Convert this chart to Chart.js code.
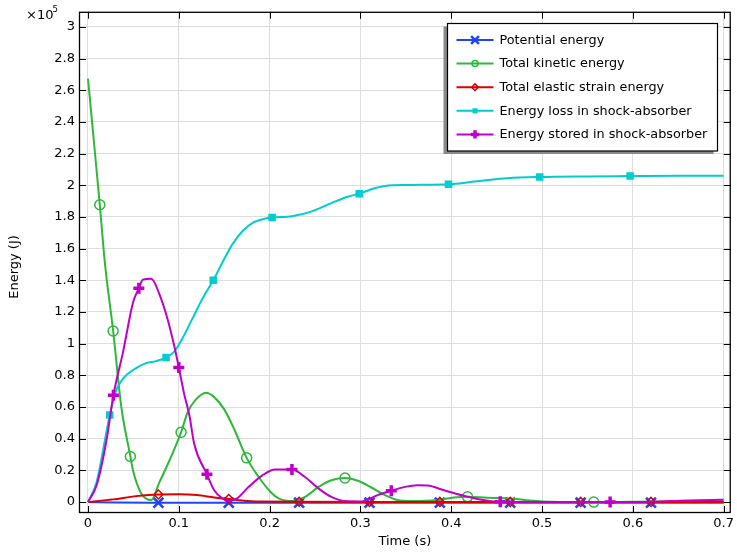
<!DOCTYPE html>
<html>
<head>
<meta charset="utf-8">
<title>Energy balance</title>
<script src="https://cdn.jsdelivr.net/npm/chart.js@4.4.1/dist/chart.umd.min.js"></script>
<style>
  html, body { margin: 0; padding: 0; background: #fff; }
</style>
</head>
<body>
<canvas id="energyChart" width="737" height="553"></canvas>
<script>
// Time (s) / energy (J) samples for each quantity; *Marks are the times that get a marker
const potTime = [0, 0.03, 0.0775, 0.155, 0.2325, 0.31, 0.3875, 0.465, 0.5425, 0.62, 0.7];
const potEnergy = [0, -300, -400, -400, -400, -400, -400, -400, -400, -400, -400];
const potMarks = [0.0775, 0.155, 0.2325, 0.31, 0.3875, 0.465, 0.5425, 0.62];

const kinTime = [0, 0.013, 0.0186, 0.0277, 0.0368, 0.0467, 0.0496, 0.0587, 0.0697, 0.0788,
  0.0897, 0.1025, 0.11, 0.119, 0.13, 0.139, 0.15, 0.161, 0.1747, 0.188,
  0.201, 0.21, 0.2246, 0.239, 0.254, 0.268, 0.283, 0.298, 0.312, 0.327,
  0.341, 0.356, 0.385, 0.403, 0.418, 0.44, 0.465, 0.491, 0.51, 0.557, 0.6, 0.7];
const kinEnergy = [267300, 187700, 151000, 108000, 59600, 28800, 20000, 5400, 1250, 12700,
  26250, 44000, 57000, 64800, 69000, 66250, 58500, 46000, 27900, 15800,
  6400, 2300, 600, 3300, 9600, 13750, 15200, 13300, 9200, 4400,
  1250, 600, 1250, 2900, 3300, 2700, 2300, 800, 200, 0, 200, 400];
const kinMarks = [0.013, 0.0277, 0.0467, 0.1025, 0.1747, 0.283, 0.418, 0.557];

const elaTime = [0, 0.0277, 0.053, 0.0775, 0.1, 0.12, 0.139, 0.155, 0.175, 0.19,
  0.2325, 0.31, 0.3875, 0.465, 0.5425, 0.62, 0.7];
const elaEnergy = [0, 1700, 3750, 4800, 4900, 4400, 2900, 1900, 600, 400,
  200, 100, 100, 100, 100, 100, 100];
const elaMarks = [0.0775, 0.155, 0.2325, 0.31, 0.3875, 0.465, 0.5425, 0.62];

const lossTime = [0, 0.0095, 0.024, 0.0314, 0.0387, 0.053, 0.064, 0.075, 0.086, 0.095,
  0.104, 0.115, 0.126, 0.1379, 0.148, 0.159, 0.17, 0.1827, 0.1955, 0.2027,
  0.2246, 0.2465, 0.268, 0.2867, 0.2987, 0.312, 0.327, 0.352, 0.397, 0.425,
  0.4617, 0.4975, 0.55, 0.597, 0.65, 0.7];
const lossEnergy = [0, 12700, 55000, 71000, 78000, 84600, 87700, 89000, 91250, 95000,
  103300, 115800, 128300, 140000, 151250, 162700, 171000, 176700, 179000, 179600,
  180400, 183500, 188750, 192900, 194600, 197500, 199600, 200200, 200600, 202300,
  204400, 205200, 205600, 205800, 206000, 206000];
const lossMarks = [0.024, 0.086, 0.1379, 0.2027, 0.2987, 0.397, 0.4975, 0.597];

const stoTime = [0, 0.0095, 0.0204, 0.028, 0.0387, 0.0496, 0.056, 0.0605, 0.0697, 0.0788,
  0.0879, 0.0952, 0.1, 0.106, 0.1116, 0.117, 0.131, 0.139, 0.148, 0.155,
  0.164, 0.177, 0.192, 0.2064, 0.2246, 0.239, 0.254, 0.268, 0.283, 0.301,
  0.319, 0.334, 0.349, 0.363, 0.374, 0.392, 0.418, 0.44, 0.454, 0.5,
  0.575, 0.62, 0.66, 0.7];
const stoEnergy = [0, 10600, 39000, 67500, 95000, 126000, 135000, 140400, 141000, 131000,
  115000, 98000, 85000, 68000, 55000, 36700, 17500, 7500, 2300, 600,
  2300, 9600, 16900, 20600, 20600, 15800, 8500, 3300, 600, 400,
  4400, 7100, 9600, 10600, 10400, 7500, 3300, 800, 200, 0,
  0, 200, 1000, 1400];
const stoMarks = [0.028, 0.056, 0.1, 0.131, 0.2246, 0.334, 0.454, 0.575];

// axis ticks
const timeTicks = [0, 0.1, 0.2, 0.3, 0.4, 0.5, 0.6, 0.7];
const energyTicks = [0, 20000, 40000, 60000, 80000, 100000, 120000, 140000, 160000,
  180000, 200000, 220000, 240000, 260000, 280000, 300000];

const seriesLabels = ['Potential energy', 'Total kinetic energy', 'Total elastic strain energy',
  'Energy loss in shock-absorber', 'Energy stored in shock-absorber'];

const FONT = 'DejaVu Sans';

// marker look per curve: chart size and the smaller one used in the legend box
const markerStyles = [
  { style: 'crossRot', radius: 7, width: 2.6, fill: '#1f45fc', legend: 5.5 },
  { style: 'circle', radius: 5, width: 1.5, fill: 'rgba(0,0,0,0)', legend: 3 },
  { style: 'rectRot', radius: 4.5, width: 1.5, fill: 'rgba(0,0,0,0)', legend: 3.3 },
  { style: 'rect', radius: 5.3, width: 0, fill: '#00cdd0', legend: 3.6 },
  { style: 'cross', radius: 5.5, width: 3.5, fill: '#c000c8', legend: 4.2 }
];
const lineColors = ['#1f45fc', '#2eb83a', '#dc0000', '#00cdd0', '#c000c8'];

function makeDataset(i, times, values, marks) {
  const m = markerStyles[i];
  return {
    label: seriesLabels[i],
    data: times.map((t, k) => ({ x: t, y: values[k] })),
    borderColor: lineColors[i],
    borderWidth: 2,
    cubicInterpolationMode: 'monotone',
    pointStyle: m.style,
    pointRadius: c => (c.raw && marks.includes(c.raw.x)) ? m.radius : 0,
    pointBorderWidth: m.width,
    pointBorderColor: lineColors[i],
    pointBackgroundColor: m.fill,
    // later curves sit on top
    order: 4 - i
  };
}

const datasets = [
  makeDataset(0, potTime, potEnergy, potMarks),
  makeDataset(1, kinTime, kinEnergy, kinMarks),
  makeDataset(2, elaTime, elaEnergy, elaMarks),
  makeDataset(3, lossTime, lossEnergy, lossMarks),
  makeDataset(4, stoTime, stoEnergy, stoMarks)
];

// frame with inward ticks, y title, the x10^5 factor and the boxed legend
const framePlugin = {
  id: 'frame',
  afterDraw(chart) {
    const { ctx, chartArea: a, scales } = chart;
    const x = scales.x, y = scales.y;
    ctx.save();
    ctx.strokeStyle = '#000';
    ctx.lineWidth = 1;
    ctx.beginPath();
    x.ticks.forEach(t => {
      const px = Math.round(x.getPixelForValue(t.value)) + 0.5;
      ctx.moveTo(px, a.bottom); ctx.lineTo(px, a.bottom - 7);
      ctx.moveTo(px, a.top); ctx.lineTo(px, a.top + 7);
    });
    y.ticks.forEach(t => {
      const py = Math.round(y.getPixelForValue(t.value)) + 0.5;
      ctx.moveTo(a.left, py); ctx.lineTo(a.left + 7, py);
      ctx.moveTo(a.right, py); ctx.lineTo(a.right - 7, py);
    });
    ctx.stroke();
    ctx.lineWidth = 1.3;
    ctx.strokeRect(a.left + 0.5, a.top + 0.5, a.right - a.left - 1, a.bottom - a.top - 1);

    ctx.fillStyle = '#000';
    // y axis title
    ctx.save();
    ctx.translate(15, 267);
    ctx.rotate(-Math.PI / 2);
    ctx.font = '13px "' + FONT + '"';
    ctx.textAlign = 'center';
    ctx.textBaseline = 'middle';
    ctx.fillText('Energy (J)', 0, 0);
    ctx.restore();

    // axis multiplier
    ctx.textBaseline = 'alphabetic';
    ctx.textAlign = 'left';
    ctx.font = '13px "' + FONT + '"';
    ctx.fillText('×10', 26, 18.5);
    ctx.font = '8.5px "' + FONT + '"';
    ctx.fillText('5', 52.5, 12);

    // legend
    const bx = 447.5, by = 23.5, bw = 270, bh = 127.5;
    ctx.fillStyle = '#8a8a8a';
    ctx.fillRect(bx - 4, by + 3, bw, bh);
    ctx.fillStyle = '#fff';
    ctx.fillRect(bx, by, bw, bh);
    ctx.strokeStyle = '#000';
    ctx.lineWidth = 1.2;
    ctx.strokeRect(bx, by, bw, bh);
    ctx.font = '12.8px "' + FONT + '"';
    ctx.textBaseline = 'middle';
    seriesLabels.forEach((label, i) => {
      const rowY = 40 + i * 23.6;
      ctx.strokeStyle = lineColors[i];
      ctx.lineWidth = 2;
      ctx.beginPath();
      ctx.moveTo(456.5, rowY); ctx.lineTo(493.5, rowY);
      ctx.stroke();
      const m = markerStyles[i];
      ctx.fillStyle = m.fill;
      ctx.lineWidth = m.width;
      Chart.helpers.drawPoint(ctx, { pointStyle: m.style, radius: m.legend, rotation: 0, borderWidth: m.width }, 475, rowY);
      ctx.fillStyle = '#000';
      ctx.fillText(label, 499.5, rowY + 0.5);
    });
    ctx.restore();
  }
};

const tickFont = { family: FONT, size: 13 };

new Chart(document.getElementById('energyChart'), {
  type: 'line',
  data: { datasets },
  options: {
    responsive: false,
    devicePixelRatio: 1,
    animation: false,
    events: [],
    layout: { padding: { top: 8, right: 3, bottom: 0, left: 0 } },
    plugins: { legend: { display: false }, tooltip: { enabled: false } },
    scales: {
      x: {
        type: 'linear',
        min: -0.0099,
        max: 0.7078,
        afterBuildTicks: s => { s.ticks = timeTicks.map(v => ({ value: v })); },
        ticks: {
          autoSkip: false, maxRotation: 0,
          padding: 3, color: '#000', font: tickFont,
          callback: v => String(+v.toFixed(1))
        },
        grid: { color: '#dedede', drawTicks: false },
        border: { display: false },
        title: { display: true, text: 'Time (s)', color: '#000', font: tickFont, padding: { top: 4, bottom: 4 } },
        afterFit: s => { s.height = 40; }
      },
      y: {
        type: 'linear',
        min: -6900,
        max: 309500,
        afterBuildTicks: s => { s.ticks = energyTicks.map(v => ({ value: v })); },
        ticks: {
          autoSkip: false,
          padding: 4, color: '#000', font: tickFont,
          callback: v => String(+(v / 1e5).toFixed(1))
        },
        grid: { color: '#dedede', drawTicks: false },
        border: { display: false },
        afterFit: s => { s.width = 79; }
      }
    }
  },
  plugins: [framePlugin]
});
</script>
</body>
</html>
